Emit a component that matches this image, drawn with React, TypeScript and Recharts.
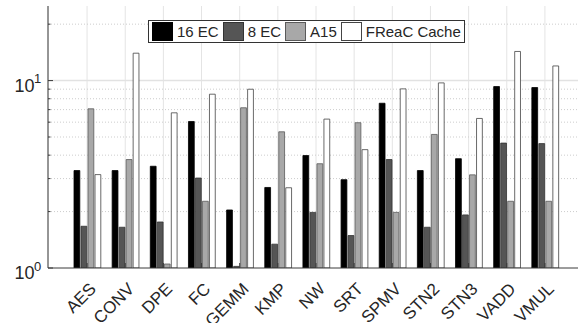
import React from "react";
import { BarChart, Bar, XAxis, YAxis, CartesianGrid, Legend } from "recharts";

const categories = ["AES", "CONV", "DPE", "FC", "GEMM", "KMP", "NW", "SRT", "SPMV", "STN2", "STN3", "VADD", "VMUL"];
const ec16 = [3.31, 3.31, 3.49, 6.05, 2.04, 2.69, 3.98, 2.96, 7.57, 3.31, 3.83, 9.29, 9.18];
const ec8 = [1.67, 1.65, 1.76, 3.02, 1.02, 1.34, 1.98, 1.49, 3.79, 1.65, 1.92, 4.64, 4.61];
const a15 = [7.07, 3.79, 1.05, 2.27, 7.16, 5.33, 3.6, 5.96, 1.98, 5.16, 3.14, 2.27, 2.27];
const freac = [3.15, 14.0, 6.73, 8.46, 8.99, 2.68, 6.23, 4.28, 9.03, 9.72, 6.28, 14.3, 11.97];

const majorTicks = [1, 10];
const minorTicks = [2, 3, 4, 5, 6, 7, 8, 9, 20];

const series = [
  { key: "ec16", name: "16 EC", fill: "#000000", stroke: "#000000" },
  { key: "ec8", name: "8 EC", fill: "#555555", stroke: "#333333" },
  { key: "a15", name: "A15", fill: "#a8a8a8", stroke: "#5a5a5a" },
  { key: "freac", name: "FReaC Cache", fill: "#ffffff", stroke: "#444444" },
];

const data = categories.map((name, i) => ({
  name,
  ec16: ec16[i],
  ec8: ec8[i],
  a15: a15[i],
  freac: freac[i],
}));

const FONT = "'Liberation Sans', Arial, Helvetica, sans-serif";
const TEXT = "#262626";
const AXIS = "#3a3a3a";

function YTick(props: any) {
  const { x, y, payload } = props;
  const v = Number(payload.value);
  const major = majorTicks.includes(v);
  const exp = Math.round(Math.log10(v));
  return (
    <g>
      <line x1={x} x2={x + (major ? 5 : 2.5)} y1={y} y2={y} stroke={AXIS} strokeWidth={1} />
      {major && (
        <g fontFamily={FONT} fill={TEXT}>
          <text x={x - 13.5} y={y + 11} textAnchor="end" fontSize={18}>
            10
          </text>
          <text x={x - 14} y={y + 2.5} textAnchor="start" fontSize={13}>
            {exp}
          </text>
        </g>
      )}
    </g>
  );
}

function XTick(props: any) {
  const { x, y, payload } = props;
  const ax = x + 10;
  const ay = y + 22;
  return (
    <g>
      <line x1={x} x2={x} y1={y} y2={y - 5} stroke={AXIS} strokeWidth={1} />
      <text
        x={ax}
        y={ay}
        transform={`rotate(-45 ${ax} ${ay})`}
        textAnchor="end"
        fontSize={17}
        fontFamily={FONT}
        fill={TEXT}
      >
        {payload.value}
      </text>
    </g>
  );
}

function TopTick(props: any) {
  const { x, y } = props;
  return <line x1={x} x2={x} y1={y} y2={y + 5} stroke={AXIS} strokeWidth={1} />;
}

function renderLegend() {
  return (
    <div
      style={{
        display: "flex",
        alignItems: "center",
        height: 21,
        padding: "0 3px",
        border: "1px solid #333",
        background: "#fff",
        fontFamily: FONT,
        fontSize: 15,
        color: TEXT,
        whiteSpace: "nowrap",
      }}
    >
      {series.map((s, i) => (
        <div key={s.key} style={{ display: "flex", alignItems: "center", marginLeft: i === 0 ? 0 : 4 }}>
          <span
            style={{
              display: "inline-block",
              width: 19,
              height: 17,
              background: s.fill,
              border: `1px solid ${s.stroke}`,
              marginRight: 4,
            }}
          />
          <span>{s.name}</span>
        </div>
      ))}
    </div>
  );
}

export default function App() {
  return (
    <div style={{ position: "absolute", left: 0, top: 0, width: 578, height: 323, overflow: "hidden", background: "#fff" }}>
      <BarChart
        width={600}
        height={323}
        data={data}
        margin={{ top: 6, right: 17, bottom: 0, left: 8 }}
        barSize={5.8}
        barGap={1.2}
      >
        <CartesianGrid horizontal={false} vertical stroke="#e4e4e4" strokeWidth={1} />
        <CartesianGrid
          vertical={false}
          horizontalValues={minorTicks}
          stroke="#cdcdcd"
          strokeDasharray="1 2"
          strokeWidth={1}
        />
        <CartesianGrid vertical={false} horizontalValues={[10]} stroke="#e2e2e2" strokeWidth={1.5} />
        {series.map((s) => (
          <Bar
            key={s.key}
            dataKey={s.key}
            name={s.name}
            fill={s.fill}
            stroke={s.stroke}
            strokeWidth={0.8}
            isAnimationActive={false}
          />
        ))}
        <XAxis
          dataKey="name"
          height={55}
          padding={{ left: 20, right: 19 }}
          tickSize={0}
          tickMargin={0}
          tickLine={false}
          interval={0}
          tick={<XTick />}
          axisLine={{ stroke: AXIS }}
        />
        <XAxis
          xAxisId="top"
          orientation="top"
          dataKey="name"
          height={0}
          padding={{ left: 20, right: 19 }}
          tickSize={0}
          tickMargin={0}
          tickLine={false}
          interval={0}
          tick={<TopTick />}
          axisLine={{ stroke: AXIS }}
        />
        <YAxis
          scale="log"
          domain={[1, 25]}
          allowDataOverflow
          ticks={[...majorTicks, ...minorTicks]}
          width={40}
          tickSize={0}
          tickMargin={0}
          tickLine={false}
          interval={0}
          tick={<YTick />}
          axisLine={{ stroke: AXIS }}
        />
        <Legend
          layout="horizontal"
          verticalAlign="middle"
          align="center"
          content={renderLegend}
          wrapperStyle={{ left: 148, top: 20, width: "auto", height: "auto" }}
        />
      </BarChart>
    </div>
  );
}
